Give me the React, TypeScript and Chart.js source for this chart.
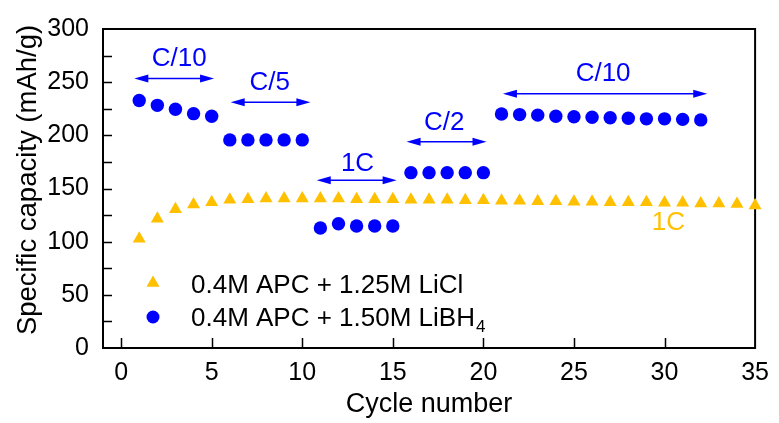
import React, { useEffect, useRef } from 'react';
import { Chart, registerables } from 'chart.js';

Chart.register(...registerables);

// ---- data ----
const liclCycles = [1, 2, 3, 4, 5, 6, 7, 8, 9, 10, 11, 12, 13, 14, 15, 16, 17, 18, 19, 20, 21, 22, 23, 24, 25, 26, 27, 28, 29, 30, 31, 32, 33, 34, 35];
const liclCapacity = [102.7, 121.5, 130.5, 135, 137, 139.5, 140, 140.5, 140.5, 140.5, 140.5, 140.5, 140, 140, 140, 139.5, 139.5, 139.5, 139, 139, 138.5, 138.5, 138, 138, 137.5, 137.5, 137, 137, 137, 136.5, 136.5, 136, 136, 135.5, 134];

const libh4Cycles = [1, 2, 3, 4, 5, 6, 7, 8, 9, 10, 11, 12, 13, 14, 15, 16, 17, 18, 19, 20, 21, 22, 23, 24, 25, 26, 27, 28, 29, 30, 31, 32];
const libh4Capacity = [232.7, 228.2, 224.5, 220.4, 218, 195.7, 195.7, 195.7, 195.7, 195.7, 112.8, 116.8, 114.7, 114.7, 114.7, 164.9, 164.9, 164.9, 164.9, 164.9, 220, 219.5, 219, 218, 217.5, 217, 216.5, 216, 215.5, 215.5, 215, 214.5];

const xTickValues = [0, 5, 10, 15, 20, 25, 30, 35];
const yTickValues = [0, 50, 100, 150, 200, 250, 300];
const yMinorTickValues = [25, 75, 125, 175, 225, 275];

const seriesNames = ['0.4M APC + 1.25M LiCl', '0.4M APC + 1.50M LiBH'];
const seriesSubscripts = ['', '4'];

// rate annotations (data coordinates)
const rateLabels = ['C/10', 'C/5', '1C', 'C/2', 'C/10'];
const rateLabelX = [3.21, 8.21, 13.05, 17.84, 26.61];
const rateLabelY = [271.6, 249.5, 173.4, 211.9, 257.8];
const arrowStartX = [0.73, 6.05, 10.8, 15.76, 21.08];
const arrowEndX = [5.13, 10.45, 15.21, 20.17, 32.36];
const arrowY = [253.5, 231.2, 157.8, 193.9, 239.2];
const orangeLabel = '1C';
const orangeLabelX = 30.21;
const orangeLabelY = 118.1;

const ORANGE = '#FFC000';
const BLUE = '#0000FF';
const FONT = '"Liberation Sans", Arial, Helvetica, sans-serif';

function drawArrowHead(ctx: CanvasRenderingContext2D, x: number, y: number, dir: number) {
  const len = 14;
  const half = 4;
  ctx.beginPath();
  ctx.moveTo(x, y);
  ctx.lineTo(x - dir * len, y - half);
  ctx.lineTo(x - dir * len, y + half);
  ctx.closePath();
  ctx.fill();
}

const decorPlugin = {
  id: 'decor',
  beforeDatasetsDraw(chart: any) {
    const { ctx, chartArea } = chart;
    const xs = chart.scales.x;
    const ys = chart.scales.y;
    ctx.save();
    ctx.strokeStyle = '#000';
    ctx.lineWidth = 2;
    ctx.strokeRect(chartArea.left, chartArea.top, chartArea.right - chartArea.left, chartArea.bottom - chartArea.top);
    ctx.lineWidth = 1.5;
    ctx.beginPath();
    for (const v of [...yTickValues, ...yMinorTickValues]) {
      const py = Math.round(ys.getPixelForValue(v)) + 0.5;
      if (v === 0 || v === 300) continue;
      ctx.moveTo(chartArea.left, py);
      ctx.lineTo(chartArea.left + 9, py);
    }
    for (const v of xTickValues) {
      const px = Math.round(xs.getPixelForValue(v)) + 0.5;
      if (v === 35) continue;
      ctx.moveTo(px, chartArea.bottom);
      ctx.lineTo(px, chartArea.bottom - 10);
    }
    ctx.stroke();
    ctx.restore();
  },
  afterDraw(chart: any) {
    const { ctx, chartArea } = chart;
    const xs = chart.scales.x;
    const ys = chart.scales.y;
    ctx.save();
    // arrows
    ctx.strokeStyle = BLUE;
    ctx.fillStyle = BLUE;
    ctx.lineWidth = 1.5;
    for (let i = 0; i < rateLabels.length; i++) {
      const x1 = xs.getPixelForValue(arrowStartX[i]);
      const x2 = xs.getPixelForValue(arrowEndX[i]);
      const y = ys.getPixelForValue(arrowY[i]);
      ctx.beginPath();
      ctx.moveTo(x1 + 6, y);
      ctx.lineTo(x2 - 6, y);
      ctx.stroke();
      drawArrowHead(ctx, x1, y, -1);
      drawArrowHead(ctx, x2, y, 1);
    }
    // rate labels
    ctx.font = `26px ${FONT}`;
    ctx.textAlign = 'center';
    ctx.textBaseline = 'middle';
    for (let i = 0; i < rateLabels.length; i++) {
      ctx.fillText(rateLabels[i], xs.getPixelForValue(rateLabelX[i]), ys.getPixelForValue(rateLabelY[i]));
    }
    ctx.fillStyle = ORANGE;
    ctx.fillText(orangeLabel, xs.getPixelForValue(orangeLabelX), ys.getPixelForValue(orangeLabelY));

    // legend
    const lx = 153;
    const l1 = 283;
    const l2 = 317;
    ctx.fillStyle = ORANGE;
    const r = 7.5;
    ctx.beginPath();
    ctx.moveTo(lx, l1 - r);
    ctx.lineTo(lx + r * Math.sin((2 * Math.PI) / 3), l1 - r * Math.cos((2 * Math.PI) / 3));
    ctx.lineTo(lx + r * Math.sin((4 * Math.PI) / 3), l1 - r * Math.cos((4 * Math.PI) / 3));
    ctx.closePath();
    ctx.fill();
    ctx.fillStyle = BLUE;
    ctx.beginPath();
    ctx.arc(lx, l2, 6.5, 0, Math.PI * 2);
    ctx.fill();

    ctx.fillStyle = '#000';
    ctx.textAlign = 'left';
    ctx.textBaseline = 'alphabetic';
    const baselines = [292.5, 326];
    for (let i = 0; i < seriesNames.length; i++) {
      ctx.font = `26px ${FONT}`;
      ctx.fillText(seriesNames[i], 191, baselines[i]);
      if (seriesSubscripts[i]) {
        const w = ctx.measureText(seriesNames[i]).width;
        ctx.font = `17px ${FONT}`;
        ctx.fillText(seriesSubscripts[i], 191 + w + 1, baselines[i] + 6);
      }
    }

    // axis titles
    ctx.font = `27px ${FONT}`;
    ctx.textAlign = 'center';
    ctx.textBaseline = 'middle';
    ctx.fillText('Cycle number', (chartArea.left + chartArea.right) / 2, 405);
    ctx.save();
    ctx.translate(28, 180);
    ctx.rotate(-Math.PI / 2);
    ctx.font = `27.5px ${FONT}`;
    ctx.fillText('Specific capacity (mAh/g)', 0, 0);
    ctx.restore();
    ctx.restore();
  },
};

export default function App() {
  const canvasRef = useRef<HTMLCanvasElement | null>(null);

  useEffect(() => {
    const canvas = canvasRef.current;
    if (!canvas) return;
    const chart = new Chart(canvas, {
      type: 'scatter',
      data: {
        datasets: [
          {
            label: seriesNames[0],
            data: liclCycles.map((c, i) => ({ x: c, y: liclCapacity[i] })),
            pointStyle: 'triangle',
            pointRadius: 7.5,
            pointHoverRadius: 7.5,
            backgroundColor: ORANGE,
            borderColor: ORANGE,
            borderWidth: 0,
            showLine: false,
            clip: false as any,
          },
          {
            label: seriesNames[1],
            data: libh4Cycles.map((c, i) => ({ x: c, y: libh4Capacity[i] })),
            pointStyle: 'circle',
            pointRadius: 6.7,
            pointHoverRadius: 6.7,
            backgroundColor: BLUE,
            borderColor: BLUE,
            borderWidth: 0,
            showLine: false,
            clip: false as any,
          },
        ],
      },
      options: {
        animation: false,
        responsive: false,
        maintainAspectRatio: false,
        events: [],
        layout: { padding: { top: 21, right: 21, left: 0, bottom: 0 } },
        plugins: {
          legend: { display: false },
          tooltip: { enabled: false },
          title: { display: false },
        },
        scales: {
          x: {
            type: 'linear',
            min: -1,
            max: 35,
            grid: { display: false, drawTicks: false },
            border: { display: false },
            ticks: {
              color: '#000',
              font: { family: FONT, size: 25 },
              padding: 10,
              maxRotation: 0,
            },
            afterBuildTicks: (s: any) => {
              s.ticks = xTickValues.map((v) => ({ value: v }));
            },
            afterFit: (s: any) => {
              s.height = 75;
            },
          },
          y: {
            type: 'linear',
            min: 0,
            max: 300,
            grid: { display: false, drawTicks: false },
            border: { display: false },
            ticks: {
              color: '#000',
              font: { family: FONT, size: 25 },
              padding: 14,
            },
            afterBuildTicks: (s: any) => {
              s.ticks = yTickValues.map((v) => ({ value: v }));
            },
            afterFit: (s: any) => {
              s.width = 103;
            },
          },
        },
      },
      plugins: [decorPlugin],
    });
    return () => chart.destroy();
  }, []);

  return (
    <div style={{ position: 'absolute', left: 0, top: 0, width: 779, height: 423, background: '#fff' }}>
      <canvas ref={canvasRef} width={779} height={423} style={{ display: 'block', width: 779, height: 423 }} />
    </div>
  );
}
